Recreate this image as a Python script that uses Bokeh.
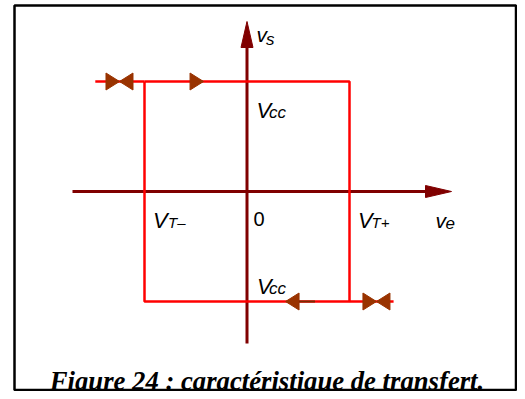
from bokeh.plotting import figure
from bokeh.models import Range1d
from bokeh.core.properties import value
from bokeh.embed import file_html
from bokeh.resources import INLINE

# ---- data (normalised: thresholds +/-1, saturation +/-Vcc = +/-1) ----
VT_minus = -1.0
VT_plus = 1.0
Vs_high = 1.0
Vs_low = -1.0
ve_left_end = -1.48     # left tail of the upper branch
ve_right_end = 1.43     # right tail of the lower branch
arrow_upper = [-1.244, -0.424]   # marker positions along the upper branch (ve)
arrow_lower = [0.376, 1.263]     # marker positions along the lower branch (ve)

# ---- layout helpers (pixel <-> data) ----
XS, YS = 102.5, 110.0
X0, Y0 = 246.5, 191.0
def px(xp): return (xp - X0) / XS
def py(yp): return (Y0 - yp) / YS

W, H = 517, 391
p = figure(width=W, height=H, output_backend="svg", toolbar_location=None,
           x_range=Range1d(px(0), px(W)), y_range=Range1d(py(H), py(0)),
           min_border=0, outline_line_color=None)
p.axis.visible = False
p.grid.visible = False
p.background_fill_color = "white"
p.border_fill_color = "white"

AXC = "#800000"
RED = "#ff0000"
BRN = "#993300"

# frame box
p.quad(left=[px(14)], right=[px(515.5)], top=[py(5)], bottom=[py(389.5)],
       fill_color=None, line_color="black", line_width=2.5)

# axes
p.line([px(72), px(427)], [0, 0], line_color=AXC, line_width=3)
p.patch([px(425), px(451), px(425)], [py(185), 0, py(197)], color=AXC)
p.line([0, 0], [py(343), py(45)], line_color=AXC, line_width=3)
p.patch([px(240.5), 0, px(252.5)], [py(47), py(21), py(47)], color=AXC)

# hysteresis loop
p.line([VT_minus, VT_plus, VT_plus, VT_minus, VT_minus],
       [Vs_high, Vs_high, Vs_low, Vs_low, Vs_high], line_color=RED, line_width=2.5)
p.line([ve_left_end, VT_minus], [Vs_high, Vs_high], line_color=RED, line_width=2.5)
p.line([VT_plus, ve_right_end], [Vs_low, Vs_low], line_color=RED, line_width=2.5)

# direction markers
L = 13.5 / XS
hh = 8.5 / YS
xs, ys = [], []
def tri(tip_x, yv, direction):
    base = tip_x - direction * L
    xs.append([base, tip_x, base])
    ys.append([yv + hh, yv, yv - hh])
tri(arrow_upper[0], Vs_high, +1)
tri(arrow_upper[0], Vs_high, -1)
tri(arrow_upper[1], Vs_high, +1)
tri(arrow_lower[0], Vs_low, -1)
tri(arrow_lower[1], Vs_low, +1)
tri(arrow_lower[1], Vs_low, -1)
p.patches(xs, ys, color=BRN)
p.line([arrow_lower[0] + L, arrow_lower[0] + L + 16 / XS], [Vs_low, Vs_low],
       line_color="#7a2a00", line_width=2)

# labels
SANS = value("Liberation Sans")
def lab(xp, yp, t, size, style="italic"):
    p.text([px(xp)], [py(yp)], text=[t], text_font=SANS, text_font_style=style,
           text_font_size=f"{size}px", text_color="black",
           text_align="left", text_baseline="alphabetic")

lab(256, 34, "v", 21); lab(265.5, 38.5, "s", 17)
lab(256, 110, "V", 22); lab(268.5, 112, "cc", 17)
lab(152.5, 220, "V", 22); lab(167.5, 222, "T\u2013", 15)
lab(253, 218.5, "0", 20, "normal")
lab(357.5, 220, "V", 22); lab(371, 222, "T+", 15)
lab(435, 220, "v", 21); lab(445, 222.5, "e", 17)
lab(256.5, 286, "V", 22); lab(268.5, 288, "cc", 17)

# caption
p.text([px(266.5)], [py(380.5)], text=["Figure 24 : caractéristique de transfert."],
       text_font=value("Liberation Serif"), text_font_style="bold italic",
       text_font_size="26.7px", text_color="black", text_align="center",
       text_baseline="alphabetic")

open("out.html", "w").write(file_html(p, INLINE))
